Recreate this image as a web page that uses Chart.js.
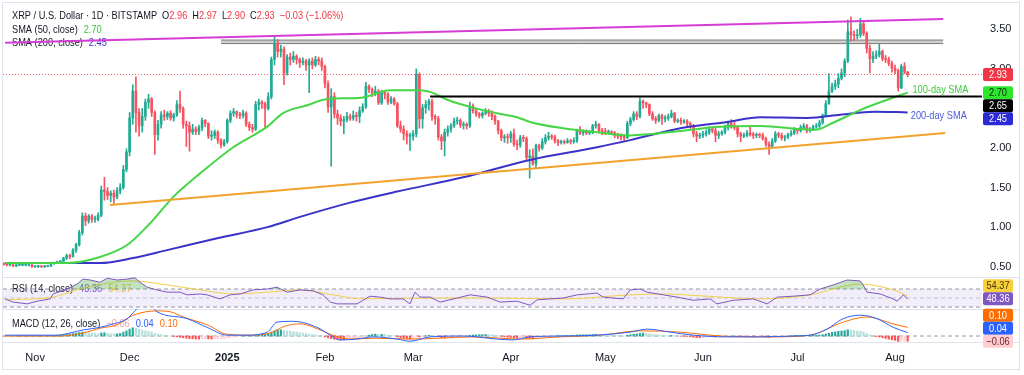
<!DOCTYPE html>
<html>
<head>
<meta charset="utf-8">
<title>XRP / U.S. Dollar 1D</title>
<script src="https://cdn.jsdelivr.net/npm/chart.js@4.4.1/dist/chart.umd.min.js"></script>
<style>
  html, body { margin: 0; padding: 0; background: #ffffff; }
  #wrap { width: 1024px; height: 375px; }
</style>
</head>
<body>
<div id="wrap"><canvas id="xrpChart" width="1024" height="375"></canvas></div>
<script>
// day index: 0 = 1 Nov 2024, first candle is 22 Oct 2024
const firstDay = -10;
const monthTicks = [0, 30, 61, 92, 120, 151, 181, 212, 242, 273];
const monthLabels = ['Nov', 'Dec', '2025', 'Feb', 'Mar', 'Apr', 'May', 'Jun', 'Jul', 'Aug'];

// daily candles (open of each day = previous close)
const firstOpen = 0.54;
const closes = [
  0.53, 0.52, 0.52, 0.51, 0.52, 0.52, 0.52, 0.52, 0.52, 0.50,
  0.50, 0.51, 0.50, 0.50, 0.51, 0.54, 0.55, 0.56, 0.57, 0.61, 0.64, 0.63, 0.71, 0.78, 0.93, 1.14, 1.08, 1.14, 1.10, 1.10, 1.15, 1.47, 1.45, 1.40, 1.43, 1.38, 1.46, 1.50, 1.73, 1.95,
  2.38, 2.72, 2.45, 2.28, 2.40, 2.58, 2.62, 2.45, 2.17, 2.30, 2.42, 2.40, 2.44, 2.38, 2.42, 2.55, 2.50, 2.30, 2.28, 2.20, 2.24, 2.21, 2.26, 2.35, 2.31, 2.15, 2.16, 2.20, 2.10, 2.04, 2.08,
  2.35, 2.44, 2.46, 2.42, 2.41, 2.44, 2.30, 2.26, 2.24, 2.55, 2.58, 2.56, 2.50, 2.65, 3.12, 3.32, 3.22, 3.25, 2.95, 3.15, 3.12, 3.16, 3.12, 3.08, 3.10, 3.05, 3.10, 3.05, 3.12, 3.10, 3.03,
  2.81, 2.52, 2.65, 2.43, 2.38, 2.34, 2.36, 2.40, 2.38, 2.41, 2.40, 2.47, 2.52, 2.78, 2.74, 2.70, 2.72, 2.57, 2.70, 2.68, 2.58, 2.62, 2.56, 2.28, 2.24, 2.18, 2.15, 2.15,
  2.18, 2.93, 2.37, 2.51, 2.55, 2.59, 2.40, 2.37, 2.14, 2.09, 2.20, 2.24, 2.28, 2.34, 2.35, 2.29, 2.30, 2.28, 2.53, 2.47, 2.43, 2.41, 2.44, 2.46, 2.44, 2.40, 2.34, 2.22, 2.13, 2.14, 2.13,
  2.18, 2.05, 2.04, 2.13, 2.12, 1.88, 1.90, 1.80, 2.03, 2.00, 2.08, 2.13, 2.15, 2.14, 2.09, 2.07, 2.08, 2.07, 2.09, 2.08, 2.09, 2.22, 2.19, 2.20, 2.19, 2.20, 2.28, 2.30, 2.22, 2.21,
  2.20, 2.20, 2.19, 2.16, 2.15, 2.14, 2.13, 2.31, 2.36, 2.43, 2.40, 2.59, 2.57, 2.55, 2.43, 2.37, 2.35, 2.41, 2.37, 2.38, 2.40, 2.44, 2.34, 2.35, 2.33, 2.34, 2.31, 2.28, 2.18, 2.15, 2.16,
  2.18, 2.20, 2.24, 2.22, 2.16, 2.18, 2.20, 2.26, 2.31, 2.28, 2.26, 2.18, 2.15, 2.16, 2.19, 2.17, 2.16, 2.17, 2.16, 2.12, 2.05, 2.02, 2.09, 2.18, 2.16, 2.13, 2.14, 2.17, 2.19, 2.24,
  2.22, 2.26, 2.28, 2.22, 2.24, 2.27, 2.28, 2.32, 2.41, 2.56, 2.72, 2.78, 2.81, 2.88, 2.95, 3.10, 3.47, 3.43, 3.42, 3.43, 3.57, 3.45, 3.26, 3.13, 3.16, 3.18, 3.22, 3.13, 3.12, 3.07, 3.01,
  2.98, 2.76, 3.03, 2.96, 2.93
];
const highs = [
  0.55, 0.54, 0.53, 0.53, 0.53, 0.53, 0.53, 0.53, 0.53, 0.53,
  0.51, 0.52, 0.51, 0.51, 0.52, 0.55, 0.56, 0.57, 0.58, 0.62, 0.66, 0.66, 0.73, 0.80, 0.96, 1.18, 1.18, 1.16, 1.16, 1.14, 1.18, 1.52, 1.63, 1.50, 1.46, 1.47, 1.50, 1.55, 1.78, 1.99,
  2.45, 2.80, 2.90, 2.50, 2.50, 2.62, 2.68, 2.64, 2.47, 2.35, 2.46, 2.48, 2.46, 2.47, 2.44, 2.60, 2.72, 2.52, 2.34, 2.33, 2.30, 2.27, 2.29, 2.38, 2.36, 2.32, 2.22, 2.23, 2.22, 2.12, 2.11,
  2.37, 2.47, 2.50, 2.47, 2.45, 2.48, 2.46, 2.33, 2.30, 2.59, 2.62, 2.60, 2.58, 2.70, 3.15, 3.40, 3.37, 3.30, 3.28, 3.18, 3.20, 3.22, 3.18, 3.14, 3.14, 3.12, 3.13, 3.14, 3.16, 3.15, 3.14,
  3.05, 2.85, 2.75, 2.70, 2.48, 2.42, 2.40, 2.45, 2.43, 2.47, 2.45, 2.52, 2.56, 2.83, 2.80, 2.76, 2.78, 2.74, 2.73, 2.72, 2.70, 2.65, 2.64, 2.58, 2.34, 2.28, 2.22, 2.19,
  2.22, 3.00, 2.95, 2.55, 2.60, 2.62, 2.62, 2.42, 2.40, 2.17, 2.24, 2.28, 2.31, 2.38, 2.39, 2.37, 2.33, 2.32, 2.58, 2.56, 2.49, 2.45, 2.46, 2.50, 2.49, 2.47, 2.42, 2.35, 2.24, 2.17, 2.18,
  2.21, 2.24, 2.10, 2.16, 2.16, 2.14, 1.98, 1.99, 2.05, 2.05, 2.12, 2.17, 2.20, 2.17, 2.16, 2.11, 2.10, 2.10, 2.12, 2.11, 2.13, 2.24, 2.27, 2.23, 2.23, 2.22, 2.30, 2.34, 2.31, 2.25,
  2.25, 2.23, 2.22, 2.21, 2.19, 2.18, 2.17, 2.34, 2.39, 2.46, 2.46, 2.63, 2.61, 2.58, 2.56, 2.46, 2.40, 2.43, 2.43, 2.41, 2.43, 2.48, 2.45, 2.37, 2.38, 2.36, 2.36, 2.33, 2.30, 2.21, 2.19,
  2.21, 2.23, 2.27, 2.27, 2.25, 2.21, 2.22, 2.29, 2.34, 2.36, 2.33, 2.28, 2.20, 2.19, 2.22, 2.27, 2.20, 2.19, 2.19, 2.19, 2.14, 2.08, 2.12, 2.21, 2.20, 2.19, 2.16, 2.19, 2.22, 2.26,
  2.25, 2.29, 2.31, 2.30, 2.26, 2.29, 2.31, 2.35, 2.43, 2.60, 2.94, 2.82, 2.86, 2.94, 3.00, 3.13, 3.62, 3.66, 3.48, 3.50, 3.64, 3.60, 3.47, 3.30, 3.22, 3.23, 3.31, 3.24, 3.17, 3.15, 3.10,
  3.05, 3.00, 3.06, 3.08, 2.97
];
const lows = [
  0.52, 0.51, 0.51, 0.50, 0.50, 0.51, 0.51, 0.51, 0.51, 0.49,
  0.49, 0.49, 0.49, 0.49, 0.50, 0.50, 0.53, 0.54, 0.55, 0.56, 0.59, 0.60, 0.62, 0.68, 0.76, 0.90, 1.02, 1.05, 1.06, 1.06, 1.08, 1.13, 1.34, 1.35, 1.32, 1.30, 1.36, 1.42, 1.48, 1.70,
  1.90, 2.30, 2.20, 2.15, 2.20, 2.35, 2.50, 2.40, 1.92, 2.10, 2.25, 2.35, 2.36, 2.35, 2.34, 2.40, 2.45, 2.25, 2.02, 1.96, 2.17, 2.17, 2.17, 2.22, 2.27, 2.12, 2.10, 2.12, 2.06, 2.00, 2.02,
  2.06, 2.32, 2.40, 2.38, 2.37, 2.38, 2.27, 2.22, 2.20, 2.22, 2.48, 2.50, 2.26, 2.48, 2.62, 3.05, 3.15, 3.15, 2.80, 2.92, 3.05, 3.08, 3.06, 3.02, 3.05, 2.98, 2.70, 3.00, 3.03, 3.05, 2.98,
  2.76, 2.45, 1.77, 2.38, 2.30, 2.28, 2.18, 2.33, 2.35, 2.35, 2.34, 2.32, 2.45, 2.50, 2.70, 2.65, 2.66, 2.55, 2.55, 2.62, 2.55, 2.56, 2.54, 2.26, 2.20, 2.10, 2.05, 1.97,
  2.10, 2.14, 2.25, 2.25, 2.44, 2.48, 2.35, 2.30, 2.10, 1.98, 1.90, 2.15, 2.20, 2.26, 2.30, 2.26, 2.24, 2.24, 2.26, 2.44, 2.40, 2.38, 2.38, 2.42, 2.40, 2.36, 2.30, 2.18, 2.09, 2.07, 2.06,
  2.07, 2.02, 1.98, 2.01, 2.08, 1.85, 1.62, 1.78, 1.74, 1.96, 1.98, 2.05, 2.10, 2.11, 2.06, 2.03, 2.05, 2.05, 2.06, 2.05, 2.06, 2.07, 2.17, 2.16, 2.17, 2.17, 2.18, 2.25, 2.19, 2.17,
  2.17, 2.18, 2.17, 2.13, 2.12, 2.10, 2.08, 2.12, 2.28, 2.34, 2.36, 2.38, 2.50, 2.51, 2.41, 2.35, 2.31, 2.33, 2.30, 2.33, 2.35, 2.38, 2.32, 2.32, 2.30, 2.31, 2.28, 2.25, 2.14, 2.08, 2.12,
  2.13, 2.15, 2.17, 2.19, 2.08, 2.12, 2.16, 2.18, 2.23, 2.25, 2.23, 2.14, 2.08, 2.13, 2.14, 2.15, 2.12, 2.13, 2.13, 2.10, 2.02, 1.92, 2.00, 2.07, 2.13, 2.10, 2.09, 2.12, 2.15, 2.17,
  2.18, 2.20, 2.24, 2.19, 2.20, 2.22, 2.25, 2.26, 2.30, 2.40, 2.55, 2.70, 2.74, 2.76, 2.86, 2.90, 3.08, 3.35, 3.36, 3.38, 3.40, 3.42, 3.20, 2.95, 3.08, 3.13, 3.15, 3.10, 3.08, 3.04, 2.96,
  2.94, 2.72, 2.75, 2.94, 2.90
];
const changeText = '\u22120.03 (\u22121.06%)';

// moving averages
const sma50Days = [-9.5, 10.2, 20.6, 29.2, 36.5, 43.8, 52.4, 62.9, 73.7, 78.7, 86.3, 92.7, 100, 104.1, 112.7, 122.2, 125.4, 130.8, 138.1, 146.7, 153, 157.1, 167.6, 178.4, 188.9, 204.8, 217.5, 230.2, 242.9, 247.6, 253.3, 258.7, 261.9, 270.5, 277];
const sma50Values = [0.547, 0.547, 0.623, 0.774, 1.05, 1.38, 1.68, 2.01, 2.27, 2.44, 2.54, 2.62, 2.63, 2.64, 2.73, 2.73, 2.71, 2.61, 2.52, 2.44, 2.39, 2.33, 2.25, 2.20, 2.16, 2.215, 2.27, 2.28, 2.24, 2.23, 2.32, 2.42, 2.48, 2.61, 2.70];
const sma200Days = [-9.5, 20.6, 31.1, 41.9, 57.8, 73.7, 84.1, 100, 114.9, 135.9, 157.1, 178.4, 188.9, 204.8, 219.7, 230.2, 245.2, 255.6, 266.3, 277];
const sma200Values = [0.547, 0.547, 0.61, 0.71, 0.86, 1.0, 1.13, 1.31, 1.45, 1.63, 1.85, 2.01, 2.10, 2.25, 2.33, 2.39, 2.38, 2.42, 2.46, 2.45];

// drawn lines
const resistanceDays = [-9.5, 288.3];
const resistancePrices = [3.33, 3.63];
const supportDays = [23.8, 288.9];
const supportPrices = [1.28, 2.19];
const zoneDays = [59, 288.3];
const zoneTop = 3.365;
const zoneBottom = 3.32;
const levelDays = [125.4, 300.6];
const levelPrice = 2.65;

// RSI (14) and its moving average
const rsiDays = [-9.5, -7, -2.5, 0.6, 4.8, 5.7, 10.2, 13.3, 15.2, 17.5, 20.6, 22.9, 26, 29.2, 31.7, 33.3, 35.6, 38.7, 41.9, 46, 48.3, 52.4, 54.6, 58.7, 61.9, 65.1, 69.2, 73.7, 76.8, 80, 84.1, 88.3, 91.4, 93.7, 95.9, 102.2, 106.3, 109.5, 112.7, 116.8, 119, 120.6, 122.2, 125.4, 128.6, 134, 138.1, 143.5, 147.6, 153, 157.1, 159.4, 167.6, 172.1, 178.4, 180.3, 186.7, 188.9, 192.1, 194.3, 199.4, 203.8, 208.9, 214.3, 216.5, 221.6, 228, 232.4, 235.6, 240.6, 246, 249.2, 253.3, 257.8, 261.9, 262.9, 264.1, 268.3, 272.4, 273.7, 275.6, 277];
const rsiValues = [48, 41, 37, 43, 48, 59, 70, 81, 92, 90, 85, 94, 90, 92, 95, 85, 74, 68, 63, 63, 57, 59, 57, 48, 57, 59, 68, 70, 74, 63, 68, 66, 57, 41, 37, 37, 54, 52, 48, 48, 37, 63, 52, 52, 41, 50, 57, 52, 41, 43, 34, 46, 50, 57, 61, 52, 48, 68, 70, 63, 57, 52, 45, 48, 37, 45, 48, 37, 52, 54, 57, 70, 79, 90, 88, 79, 63, 59, 48, 43, 57, 48.36];
const rsiMaDays = [-9.5, 5.7, 15.2, 31.1, 41.9, 52.4, 62.9, 73.7, 84.1, 94.6, 104.1, 125.4, 146.7, 167.6, 188.9, 199.4, 211, 230.2, 246, 261.9, 272.4, 277];
const rsiMaValues = [46, 52, 72, 88, 79, 68, 59, 63, 68, 57, 48, 50, 50, 48, 57, 59, 55, 48, 57, 81, 68, 54.37];

// MACD (12, 26)
const macdDays = [-9.5, 7, 11.1, 15.2, 20.6, 23.8, 29.2, 31.7, 34, 37, 38.7, 48.3, 54.6, 61, 66.7, 73.7, 76.8, 81.9, 89.5, 94.6, 96.8, 102.2, 107.3, 114.9, 119, 125.4, 135.9, 146.7, 151.7, 157.1, 167.6, 178.4, 188.9, 194.3, 201.6, 208.9, 219.7, 230.2, 240.6, 246, 251.4, 256.5, 261.9, 267.3, 272.4, 277];
const macdValues = [0.01, 0.01, 0.035, 0.07, 0.10, 0.13, 0.20, 0.29, 0.36, 0.34, 0.28, 0.20, 0.10, 0.01, 0.01, 0.045, 0.16, 0.17, 0.10, -0.01, -0.045, -0.035, -0.01, -0.035, -0.06, -0.01, 0.0, -0.035, -0.045, -0.01, 0.0, 0.01, 0.045, 0.08, 0.045, 0.01, -0.01, -0.01, 0.0, 0.01, 0.08, 0.20, 0.24, 0.20, 0.10, 0.04];
const signalDays = [-9.5, 7.9, 15.2, 20.6, 26, 31.1, 38.7, 42.9, 47, 54.6, 61, 68.3, 74.6, 79.4, 84.1, 90.5, 95.2, 100, 107.9, 119, 128.6, 138.1, 147.6, 154, 166.7, 179.4, 192.1, 204.8, 217.5, 233.3, 246, 256.5, 264.1, 272.4, 277];
const signalValues = [0, 0, 0.035, 0.09, 0.13, 0.24, 0.29, 0.28, 0.22, 0.13, 0.02, 0.01, 0.035, 0.115, 0.14, 0.07, 0, -0.035, -0.025, -0.035, -0.025, -0.01, -0.025, -0.035, -0.01, 0.01, 0.06, 0.045, 0, -0.01, 0.01, 0.16, 0.22, 0.14, 0.10];
const histValues = [
  -0.002, -0.002, -0.001, -0.001, 0, -0.001, 0, 0, 0, -0.001,
  0, 0, 0, 0, 0.002, 0.005, 0.008, 0.01, 0.012, 0.016, 0.02, 0.022, 0.028, 0.034, 0.04, 0.046, 0.044, 0.04, 0.035, 0.03, 0.026, 0.035, 0.038, 0.033, 0.028, 0.024, 0.026, 0.03, 0.045, 0.06,
  0.08, 0.095, 0.09, 0.08, 0.07, 0.06, 0.052, 0.045, 0.03, 0.022, 0.015, 0.01, 0.005, 0, -0.005, -0.01, -0.015, -0.02, -0.025, -0.03, -0.032, -0.034, -0.035, -0.033, -0.032, -0.034, -0.035, -0.033, -0.032, -0.03, -0.028,
  -0.022, -0.016, -0.01, -0.006, -0.003, 0, 0.002, 0.004, 0.005, 0.01, 0.015, 0.02, 0.022, 0.028, 0.045, 0.06, 0.07, 0.072, 0.065, 0.06, 0.055, 0.05, 0.045, 0.04, 0.035, 0.03, 0.022, 0.018, 0.012, 0.008, 0.002,
  -0.01, -0.022, -0.03, -0.038, -0.042, -0.045, -0.046, -0.044, -0.04, -0.035, -0.03, -0.025, -0.018, 0, 0.01, 0.018, 0.022, 0.02, 0.02, 0.018, 0.012, 0.008, 0.004, -0.01, -0.02, -0.028, -0.032, -0.035,
  -0.035, -0.01, -0.012, -0.006, 0.002, 0.008, 0.006, 0, -0.01, -0.018, -0.022, -0.02, -0.016, -0.012, -0.008, -0.006, -0.004, -0.002, 0.008, 0.012, 0.014, 0.015, 0.016, 0.018, 0.017, 0.014, 0.01, 0.004, -0.004, -0.01, -0.014,
  -0.016, -0.02, -0.022, -0.02, -0.02, -0.028, -0.03, -0.034, -0.026, -0.022, -0.016, -0.01, -0.006, -0.002, 0, 0.002, 0.003, 0.004, 0.005, 0.006, 0.006, 0.012, 0.014, 0.015, 0.015, 0.015, 0.018, 0.02, 0.018, 0.016,
  0.014, 0.012, 0.01, 0.008, 0.005, 0.003, 0, 0.01, 0.016, 0.022, 0.024, 0.032, 0.034, 0.033, 0.028, 0.022, 0.016, 0.013, 0.01, 0.007, 0.005, 0.006, 0.002, 0, -0.002, -0.003, -0.005, -0.008, -0.014, -0.018, -0.02,
  -0.02, -0.018, -0.014, -0.012, -0.013, -0.012, -0.01, -0.006, -0.002, 0, 0.001, -0.002, -0.005, -0.006, -0.005, -0.005, -0.006, -0.006, -0.006, -0.008, -0.012, -0.015, -0.012, -0.006, -0.004, -0.004, -0.003, -0.001, 0.002, 0.006,
  0.006, 0.008, 0.009, 0.007, 0.007, 0.008, 0.009, 0.011, 0.016, 0.024, 0.034, 0.042, 0.048, 0.054, 0.058, 0.062, 0.072, 0.07, 0.064, 0.058, 0.056, 0.046, 0.03, 0.014, 0.004, -0.006, -0.012, -0.02, -0.028, -0.036, -0.044,
  -0.05, -0.062, -0.058, -0.058, -0.06
];

// ---- build chart data ----
const xMin = -10.2, xMax = 300.6;
const FONT = '"Liberation Sans", Arial, sans-serif';
const NARROW = 0.84; // overlay text is drawn slightly condensed
const DARK = '#131722';
const upColor = '#22ab94', downColor = '#f7525f';

const days = closes.map((c, i) => firstDay + i);
const opens = closes.map((c, i) => i === 0 ? firstOpen : closes[i - 1]);
const candleColors = closes.map((c, i) => c >= opens[i] ? upColor : downColor);
const wickData = days.map((d, i) => ({x: d, y: [lows[i], highs[i]]}));
const bodyData = days.map((d, i) => ({x: d, y: [opens[i], closes[i]]}));
const histData = days.map((d, i) => ({x: d, y: histValues[i]}));
const histColors = histValues.map((v, i) => {
    let prev = i > 0 ? histValues[i - 1] : 0;
    if (v >= 0) return v >= prev ? '#26a69a' : '#b2dfdb';
    return v < prev ? '#ff5252' : '#ffcdd2';
});
const last = closes.length - 1;
const lastDay = days[last];

function pts(xs, ys) {
    return xs.map((x, i) => ({x: x, y: ys[i]}));
}

function lineDs(label, data, color, width, axis, order, extra) {
    return Object.assign({
        type: 'line', label: label, data: data, borderColor: color, borderWidth: width,
        pointRadius: 0, yAxisID: axis, order: order, fill: false, tension: 0
    }, extra || {});
}

const mono = {cubicInterpolationMode: 'monotone'};

// condensed text, left aligned at x; returns its width
function narrowText(ctx, t, x, y) {
    ctx.save();
    ctx.translate(x, y);
    ctx.scale(NARROW, 1);
    ctx.fillText(t, 0, 0);
    ctx.restore();
    return ctx.measureText(t).width * NARROW;
}

// draw a row of coloured text pieces
function drawRuns(ctx, x, y, runs) {
    runs.forEach(r => {
        ctx.fillStyle = r.c;
        x += narrowText(ctx, r.t, x, y) + (r.gap || 0);
    });
}

// value tags on the right axis, stacked so they do not overlap
function drawTags(chart, scale, items, pushUp) {
    const ctx = chart.ctx;
    const h = 13, w = 30, x = chart.chartArea.right + 1;
    let ys = items.map(it => scale.getPixelForValue(it.v));
    if (pushUp) {
        for (let i = items.length - 2; i >= 0; i--) ys[i] = Math.min(ys[i], ys[i + 1] - h);
    } else {
        for (let i = 1; i < items.length; i++) ys[i] = Math.max(ys[i], ys[i - 1] + h);
    }
    items.forEach((it, i) => {
        ctx.fillStyle = it.bg;
        ctx.beginPath();
        if (ctx.roundRect) ctx.roundRect(x, ys[i] - h / 2, w, h, 2);
        else ctx.rect(x, ys[i] - h / 2, w, h);
        ctx.fill();
        ctx.fillStyle = it.fg;
        const t = it.v.toFixed(2).replace('-', '\u2212');
        const tw = ctx.measureText(t).width * NARROW;
        narrowText(ctx, t, x + (w - tw) / 2, ys[i] + 0.5);
    });
}

const overlays = {
    id: 'overlays',
    beforeDatasetsDraw(chart) {
        const ctx = chart.ctx;
        const area = chart.chartArea;
        const s = chart.scales;
        ctx.save();
        // frame and pane separators
        ctx.strokeStyle = '#e0e3eb';
        ctx.lineWidth = 1;
        ctx.strokeRect(2.5, 2.5, chart.width - 7, chart.height - 8);
        [s.rsi.top, s.macd.top, s.macd.bottom].forEach(y => {
            ctx.beginPath();
            ctx.moveTo(area.left, Math.round(y) + 0.5);
            ctx.lineTo(chart.width - 5, Math.round(y) + 0.5);
            ctx.stroke();
        });
        ctx.font = '11px ' + FONT;
        ctx.textBaseline = 'middle';
        ctx.textAlign = 'left';
        const lx = area.left + 9;
        const red = '#f23645';
        drawRuns(ctx, lx, area.top + 11, [
            {t: 'XRP / U.S. Dollar \u00b7 1D \u00b7 BITSTAMP', c: DARK, gap: 5},
            {t: 'O', c: DARK}, {t: opens[last].toFixed(2), c: red, gap: 5},
            {t: 'H', c: DARK}, {t: highs[last].toFixed(2), c: red, gap: 5},
            {t: 'L', c: DARK}, {t: lows[last].toFixed(2), c: red, gap: 5},
            {t: 'C', c: DARK}, {t: closes[last].toFixed(2), c: red, gap: 5},
            {t: changeText, c: red}
        ]);
        drawRuns(ctx, lx, area.top + 25, [
            {t: 'SMA (50, close)', c: DARK, gap: 6},
            {t: sma50Values[sma50Values.length - 1].toFixed(2), c: '#3cc83c'}
        ]);
        drawRuns(ctx, lx, area.top + 38, [
            {t: 'SMA (200, close)', c: DARK, gap: 6},
            {t: sma200Values[sma200Values.length - 1].toFixed(2), c: '#3a33c8'}
        ]);
        drawRuns(ctx, lx, s.rsi.top + 12, [
            {t: 'RSI (14, close)', c: DARK, gap: 6},
            {t: rsiValues[rsiValues.length - 1].toFixed(2), c: '#7e57c2', gap: 6},
            {t: rsiMaValues[rsiMaValues.length - 1].toFixed(2), c: '#e8c33a'}
        ]);
        drawRuns(ctx, lx, s.macd.top + 15, [
            {t: 'MACD (12, 26, close)', c: DARK, gap: 6},
            {t: histValues[last].toFixed(2).replace('-', '\u2212'), c: '#f5a3ab', gap: 6},
            {t: macdValues[macdValues.length - 1].toFixed(2), c: '#2962ff', gap: 6},
            {t: signalValues[signalValues.length - 1].toFixed(2), c: '#ff6d00'}
        ]);
        ctx.restore();
    },
    afterDatasetsDraw(chart) {
        const ctx = chart.ctx;
        const xS = chart.scales.x, yS = chart.scales.y;
        ctx.save();
        ctx.font = '11px ' + FONT;
        ctx.textBaseline = 'middle';
        ctx.textAlign = 'left';
        ctx.fillStyle = '#3cc83c';
        narrowText(ctx, '100-day SMA', xS.getPixelForValue(lastDay + 1.5), yS.getPixelForValue(sma50Values[sma50Values.length - 1] + 0.03));
        ctx.fillStyle = '#4a5bd4';
        narrowText(ctx, '200-day SMA', xS.getPixelForValue(lastDay + 1), yS.getPixelForValue(sma200Values[sma200Values.length - 1] - 0.05));
        ctx.restore();
    },
    afterDraw(chart) {
        const ctx = chart.ctx;
        const s = chart.scales;
        ctx.save();
        ctx.font = '11px ' + FONT;
        ctx.textBaseline = 'middle';
        ctx.textAlign = 'left';
        drawTags(chart, s.y, [
            {v: closes[last], bg: '#f23645', fg: '#ffffff'},
            {v: sma50Values[sma50Values.length - 1], bg: '#2ee62e', fg: '#0b2a0b'},
            {v: levelPrice, bg: '#000000', fg: '#ffffff'},
            {v: sma200Values[sma200Values.length - 1], bg: '#2b2bd6', fg: '#ffffff'}
        ], false);
        drawTags(chart, s.rsi, [
            {v: rsiMaValues[rsiMaValues.length - 1], bg: '#f7d03c', fg: '#4a3b00'},
            {v: rsiValues[rsiValues.length - 1], bg: '#7e57c2', fg: '#ffffff'}
        ], true);
        drawTags(chart, s.macd, [
            {v: signalValues[signalValues.length - 1], bg: '#ff6d00', fg: '#ffffff'},
            {v: macdValues[macdValues.length - 1], bg: '#2962ff', fg: '#ffffff'},
            {v: histValues[last], bg: '#ffcdd2', fg: '#6b1f26'}
        ], true);
        ctx.restore();
    }
};

// no extra room above/below the panes for tick labels
function fitRight(s) {
    s.width = 36;
    s.paddingTop = 0;
    s.paddingBottom = 0;
}

const hiddenAxis = {
    grid: {display: false, drawTicks: false},
    border: {display: false},
    ticks: {display: false},
    afterFit: fitRight
};

new Chart(document.getElementById('xrpChart'), {
    type: 'bar',
    data: {
        datasets: [
            lineDs('Resistance', pts(resistanceDays, resistancePrices), '#d63cd6', 2, 'y', 1),
            lineDs('Level', pts(levelDays, [levelPrice, levelPrice]), '#000000', 2, 'y', 1),
            lineDs('Support', pts(supportDays, supportPrices), '#f2a22c', 2, 'y', 1),
            lineDs('SMA 50', pts(sma50Days, sma50Values), '#45d645', 2, 'y', 2, mono),
            lineDs('SMA 200', pts(sma200Days, sma200Values), '#3a33c8', 2, 'y', 2, mono),
            lineDs('Last price', pts([xMin, xMax], [closes[last], closes[last]]), 'rgba(242,54,69,0.8)', 1, 'y', 3, {borderDash: [1, 2]}),
            {type: 'bar', label: 'Bodies', data: bodyData, backgroundColor: candleColors, barThickness: 2,
             minBarLength: 1, grouped: false, borderWidth: 0, yAxisID: 'y', order: 4},
            {type: 'bar', label: 'Wicks', data: wickData, backgroundColor: candleColors, barThickness: 1,
             grouped: false, borderWidth: 0, yAxisID: 'y', order: 5},
            lineDs('Zone top', pts(zoneDays, [zoneTop, zoneTop]), '#7a7a7a', 1, 'y', 6),
            lineDs('Zone bottom', pts(zoneDays, [zoneBottom, zoneBottom]), '#7a7a7a', 1, 'y', 6,
                {fill: '-1', backgroundColor: '#cfcfcf'}),

            lineDs('RSI', pts(rsiDays, rsiValues), '#7e57c2', 1, 'rsi', 1,
                {fill: {target: {value: 70}, above: 'rgba(76,175,80,0.35)', below: 'rgba(0,0,0,0)'}}),
            lineDs('RSI MA', pts(rsiMaDays, rsiMaValues), '#f0cf4a', 1, 'rsi', 2, mono),
            lineDs('RSI 70', pts([xMin, xMax], [70, 70]), '#9598a1', 1, 'rsi', 3,
                {borderDash: [4, 3], fill: {target: {value: 30}}, backgroundColor: 'rgba(126,87,194,0.1)'}),
            lineDs('RSI 50', pts([xMin, xMax], [50, 50]), 'rgba(149,152,161,0.45)', 1, 'rsi', 3, {borderDash: [4, 3]}),
            lineDs('RSI 30', pts([xMin, xMax], [30, 30]), '#9598a1', 1, 'rsi', 3, {borderDash: [4, 3]}),

            lineDs('MACD', pts(macdDays, macdValues), '#2962ff', 1, 'macd', 1, mono),
            lineDs('Signal', pts(signalDays, signalValues), '#ff6d00', 1, 'macd', 2, mono),
            {type: 'bar', label: 'Histogram', data: histData, backgroundColor: histColors, barThickness: 1.5,
             grouped: false, borderWidth: 0, yAxisID: 'macd', order: 3},
            lineDs('Zero', pts([xMin, xMax], [0, 0]), '#9598a1', 1, 'macd', 4, {borderDash: [4, 3]})
        ]
    },
    options: {
        responsive: false,
        animation: false,
        devicePixelRatio: 1,
        events: [],
        layout: {padding: {left: 3, right: 6, top: 5, bottom: 7}},
        plugins: {legend: {display: false}, tooltip: {enabled: false}},
        scales: {
            x: {
                type: 'linear', min: xMin, max: xMax, offset: false,
                grid: {display: false, drawTicks: false},
                border: {display: false},
                afterBuildTicks: s => { s.ticks = monthTicks.map(v => ({value: v})); },
                afterFit: s => { s.height = 26; s.paddingLeft = 0; s.paddingRight = 0; },
                ticks: {
                    autoSkip: false, maxRotation: 0, padding: 9, color: DARK,
                    // the year label is bold, months are regular
                    font: c => ({
                        family: FONT, size: 11,
                        weight: c.tick && monthLabels[monthTicks.indexOf(c.tick.value)] === '2025' ? 'bold' : 'normal'
                    }),
                    callback: v => monthLabels[monthTicks.indexOf(v)]
                }
            },
            y: {
                type: 'linear', position: 'right', stack: 'panes', stackWeight: 272,
                min: 0.37, max: 3.808,
                grid: {display: false, drawTicks: false},
                border: {display: false},
                afterFit: fitRight,
                ticks: {
                    stepSize: 0.5, includeBounds: false, padding: 8, color: DARK,
                    font: {family: FONT, size: 11},
                    callback: v => v.toFixed(2)
                }
            },
            rsi: Object.assign({type: 'linear', position: 'right', stack: 'panes', stackWeight: 32, min: 25.6, max: 96.7}, hiddenAxis),
            macd: Object.assign({type: 'linear', position: 'right', stack: 'panes', stackWeight: 33, min: -0.069, max: 0.312}, hiddenAxis)
        }
    },
    plugins: [overlays]
});
</script>
</body>
</html>
